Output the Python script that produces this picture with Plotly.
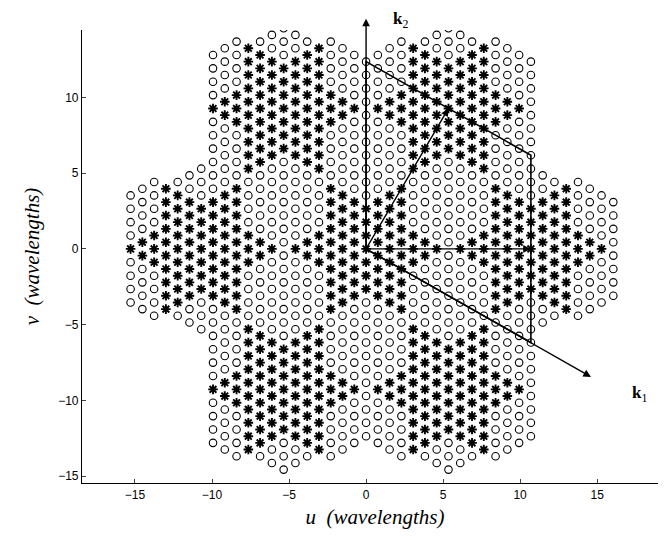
import numpy as np
import plotly.graph_objects as go

# ---- lattice data ----
COL_STEP = 10.7 / 14          # u spacing between lattice columns (wavelengths)
HALF_ROW = 9.27 / 21          # half of the vertical spacing inside one column
# centres of the seven hexagonal cells, in (column, half-row) lattice indices
CELL_CENTERS = [(0, 0), (14, 0), (-14, 0), (7, 21), (-7, 21), (7, -21), (-7, -21)]
CELL_STEP_A = (14, 0)
CELL_STEP_B = (7, 21)
# cell corners around each centre (lattice indices) where the open-circle patches sit
CORNER_OFFSETS = [(0, 14), (0, -14), (7, 7), (7, -7), (-7, 7), (-7, -7)]
CIRCLE_PATCH_STEPS = 3        # patch radius, in nearest-neighbour steps

k_vectors = {"k1": (10.7, -6.18), "k2": (0.0, 12.36)}
aux_vectors = {"a1": (10.7, 0.0), "a2": (5.35, 9.27)}
k1_tip = (14.6, -8.45)
k2_tip = (0.0, 15.2)

u_ticks = [-15, -10, -5, 0, 5, 10, 15]
v_ticks = [-15, -10, -5, 0, 5, 10]


def pos(i, m):
    return i * COL_STEP, m * HALF_ROW


step = 2 * HALF_ROW
cells = []
for p in range(-4, 5):
    for q in range(-4, 5):
        cells.append((p * CELL_STEP_A[0] + q * CELL_STEP_B[0], p * CELL_STEP_A[1] + q * CELL_STEP_B[1]))
cells_xy = np.array([pos(i, m) for i, m in cells])
corners_xy = np.array([pos(i + di, m + dm) for i, m in cells for di, dm in CORNER_OFFSETS])
inner = set(CELL_CENTERS)

cx, cy, sx, sy = [], [], [], []
for i in range(-24, 25):
    for m in range(-40, 41):
        if (m - i) % 2:
            continue
        x, y = pos(i, m)
        d = np.hypot(cells_xy[:, 0] - x + 1e-6, cells_xy[:, 1] - y + 3e-7)
        k = int(np.argmin(d))
        if cells[k] not in inner:
            continue
        dc = np.min(np.hypot(corners_xy[:, 0] - x, corners_xy[:, 1] - y))
        if dc <= CIRCLE_PATCH_STEPS * step + 1e-3:
            cx.append(x); cy.append(y)
        else:
            sx.append(x); sy.append(y)

fig = go.Figure()
fig.add_trace(go.Scatter(x=cx, y=cy, mode="markers",
                         marker=dict(symbol="circle-open", size=7.5, color="black", line=dict(width=1.1)),
                         showlegend=False, hoverinfo="skip"))
fig.add_trace(go.Scatter(x=sx, y=sy, mode="markers",
                         marker=dict(symbol="asterisk-open", size=8, color="black", line=dict(width=1.9)),
                         showlegend=False, hoverinfo="skip"))
fig.add_trace(go.Scatter(x=sx, y=sy, mode="markers",
                         marker=dict(symbol="circle", size=3.5, color="black", line=dict(width=0)),
                         showlegend=False, hoverinfo="skip"))

k1 = k_vectors["k1"]; k2 = k_vectors["k2"]
fig.add_trace(go.Scatter(x=[0, k2[0], k1[0] + k2[0], k1[0], 0],
                         y=[0, k2[1], k1[1] + k2[1], k1[1], 0],
                         mode="lines", line=dict(color="black", width=1.6),
                         showlegend=False, hoverinfo="skip"))


def arrow(x1, y1, w=1.4):
    fig.add_annotation(x=x1, y=y1, ax=0, ay=0, xref="x", yref="y", axref="x", ayref="y",
                       showarrow=True, arrowhead=2, arrowsize=1.1, arrowwidth=w,
                       arrowcolor="black", text="")


arrow(*k2_tip)
arrow(*k1_tip)
arrow(*aux_vectors["a1"])
arrow(*aux_vectors["a2"])

fig.add_annotation(x=0.527, y=1.022, xref="paper", yref="paper", text="<b>k</b><sub>2</sub>",
                   showarrow=False, xanchor="left", yanchor="middle",
                   font=dict(family="Liberation Serif", size=17, color="black"))
fig.add_annotation(x=0.935, y=0.196, xref="paper", yref="paper", text="<b>k</b><sub>1</sub>",
                   showarrow=False, xanchor="left", yanchor="middle",
                   font=dict(family="Liberation Serif", size=17, color="black"))

fig.update_layout(
    width=666, height=540,
    margin=dict(l=74, r=6, t=22, b=65),
    plot_bgcolor="white", paper_bgcolor="white",
    font=dict(family="Liberation Sans", size=12, color="black"),
)
fig.update_xaxes(range=[-18.44, 19.6], tickvals=u_ticks, ticks="inside", ticklen=4,
                 showline=True, linecolor="black", linewidth=1.2, showgrid=False, zeroline=False,
                 title=dict(text="<i>u</i>  <i>(wavelengths)</i>",
                            font=dict(family="Liberation Serif", size=21), standoff=8))
fig.update_yaxes(range=[-15.45, 14.45], tickvals=v_ticks, ticks="inside", ticklen=4,
                 showline=True, linecolor="black", linewidth=1.2, showgrid=False, zeroline=False,
                 title=dict(text="<i>v</i>  <i>(wavelengths)</i>",
                            font=dict(family="Liberation Serif", size=21), standoff=12))

fig.write_html("out.html")
